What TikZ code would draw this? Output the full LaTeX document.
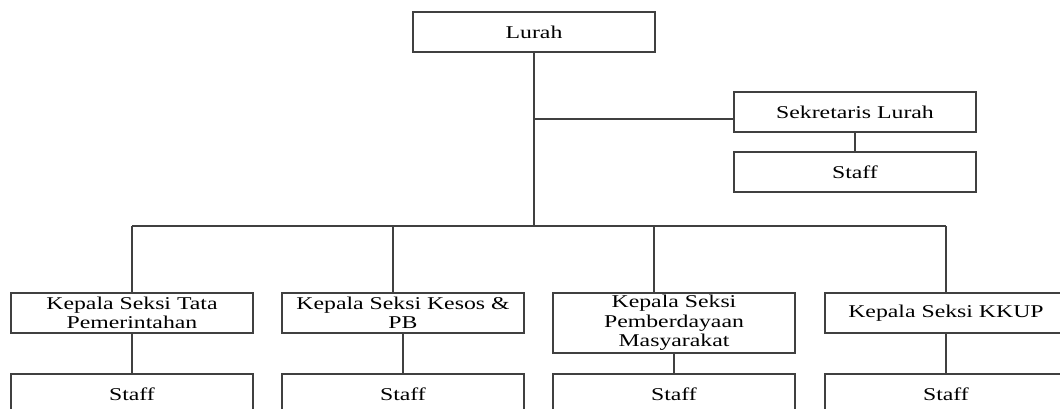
\documentclass[tikz,border=0pt]{standalone}
\usepackage{fontspec}
\setmainfont{Liberation Serif}[FakeStretch=1.32]
\usetikzlibrary{positioning}

\begin{document}
\begin{tikzpicture}[x=1pt, y=-1pt, node distance = 60pt,
  box/.style={rectangle, draw=black!75, line width=1.3pt, fill=white, minimum width=242pt, minimum height=40pt, inner sep=1pt, align=center, font=\fontsize{18}{19.5}\selectfont},
  staffbox/.style={box},
  link/.style={draw=black!75, line width=1.3pt}]
  \useasboundingbox (0,0) rectangle (1060,408);
  \clip (0,0) rectangle (1060,408);

  \node[box] at (534, 32) (lurah) {Lurah};
  \node[box] at (855, 112) (sekre) {Sekretaris Lurah};
  \node[staffbox, below of=sekre] (staff0) {Staff};

  \node[box] at (132, 313) (kasi1) {Kepala Seksi Tata\\Pemerintahan};
  \node[box, right of=kasi1, node distance=271pt] (kasi2) {Kepala Seksi Kesos \&\\PB};
  \node[box, minimum height=60pt] at (674, 323) (kasi3) {Kepala Seksi\\Pemberdayaan\\Masyarakat};
  \node[box] at (946, 313) (kasi4) {Kepala Seksi KKUP};

  \node[staffbox] at (132, 394) (staff1) {Staff};
  \node[staffbox] at (403, 394) (staff2) {Staff};
  \node[staffbox] at (674, 394) (staff3) {Staff};
  \node[staffbox] at (946, 394) (staff4) {Staff};

  \coordinate (fork) at (534, 119);
  \coordinate (hub) at (534, 226);
  \coordinate (t1) at (132, 226);
  \coordinate (t2) at (393, 226);
  \coordinate (t3) at (654, 226);
  \coordinate (t4) at (946, 226);

  \draw[link] (lurah) -- (hub);
  \draw[link] (fork) -- (fork -| sekre.west);
  \draw[link] (sekre) -- (staff0);

  \draw[link] (t1) -- (t4);
  \draw[link] (t1) -- (kasi1);
  \draw[link] (t2) -- (t2 |- kasi2.north);
  \draw[link] (t3) -- (t3 |- kasi3.north);
  \draw[link] (t4) -- (kasi4);

  \draw[link] (kasi1) -- (staff1);
  \draw[link] (kasi2) -- (staff2);
  \draw[link] (kasi3) -- (staff3);
  \draw[link] (kasi4) -- (staff4);
\end{tikzpicture}
\end{document}
